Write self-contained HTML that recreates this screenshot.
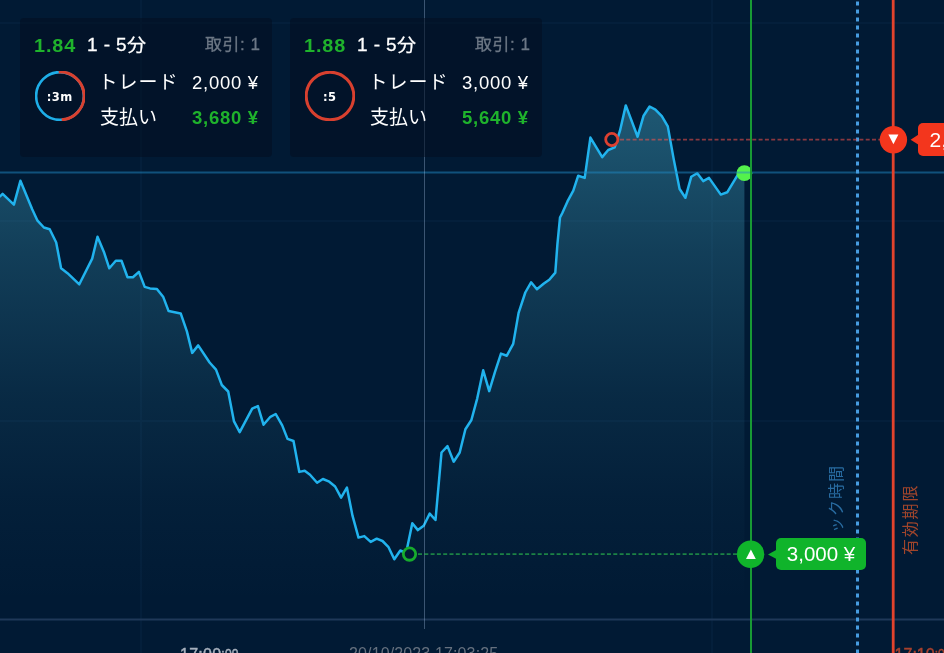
<!DOCTYPE html>
<html lang="ja">
<head>
<meta charset="utf-8">
<title>Chart</title>
<style>
html,body{margin:0;padding:0;}
body{width:944px;height:653px;overflow:hidden;background:#011a34;position:relative;font-family:"Liberation Sans","Noto Sans CJK JP",sans-serif;color:#fff;}
#chart{position:absolute;left:0;top:0;width:944px;height:653px;}
.card{position:absolute;top:18px;width:252px;height:138.5px;border-radius:4px;background:rgba(4,14,32,0.55);}
.card div{position:absolute;white-space:nowrap;}
.rate{left:14px;top:17.5px;font-size:18px;line-height:20px;font-weight:bold;color:#1fb32c;letter-spacing:0.8px;transform:scaleX(1.1);transform-origin:0 0;}
.dur{left:67px;top:16.5px;font-size:19px;line-height:20px;color:#fff;letter-spacing:0.4px;-webkit-text-stroke:0.3px #fff;}
.cnt{right:11.5px;top:16.5px;font-size:17px;line-height:20px;color:#6c7785;letter-spacing:0.5px;-webkit-text-stroke:0.3px #6c7785;transform:scaleY(.95);transform-origin:50% 100%;}
.fn{display:inline-block;transform:scaleY(.87);transform-origin:50% 82%;}
.l1{left:78.5px;top:53.5px;font-size:19px;line-height:22px;letter-spacing:1px;}
.v1{right:13.3px;top:54px;font-size:18.5px;line-height:22px;letter-spacing:0.7px;}
.l2{left:80px;top:89px;font-size:19px;line-height:22px;}
.v2{right:13.3px;top:88.5px;font-size:18.5px;line-height:22px;font-weight:bold;color:#1fb32c;letter-spacing:0.7px;}
.tm{left:14.7px;top:54.4px;width:50px;height:50px;line-height:50px;text-align:center;font-family:"DejaVu Sans","Liberation Sans",sans-serif;font-size:11.5px;font-weight:bold;letter-spacing:0.4px;}
.card svg{position:absolute;left:15.1px;top:53.4px;}
.tag{position:absolute;height:32px;line-height:32px;border-radius:5px;color:#fff;font-size:20.5px;white-space:nowrap;}
.vt{position:absolute;white-space:nowrap;transform-origin:0 0;transform:rotate(-90deg);font-size:17px;line-height:20px;}
.ax{position:absolute;white-space:nowrap;font-size:16px;line-height:16px;top:647px;}
.ax span{font-size:12px;position:relative;top:-1.8px;}
.sb{-webkit-text-stroke:0.45px currentColor;}
</style>
</head>
<body>
<svg id="chart" width="944" height="653" viewBox="0 0 944 653">
<defs>
<linearGradient id="ag" x1="0" y1="100" x2="0" y2="620" gradientUnits="userSpaceOnUse">
<stop offset="0.0000" stop-color="#42a4c0" stop-opacity="0.45"/>
<stop offset="0.0923" stop-color="#42a4c0" stop-opacity="0.4"/>
<stop offset="0.2885" stop-color="#42a4c0" stop-opacity="0.265"/>
<stop offset="0.5769" stop-color="#42a4c0" stop-opacity="0.112"/>
<stop offset="0.7692" stop-color="#42a4c0" stop-opacity="0.04"/>
<stop offset="0.9615" stop-color="#42a4c0" stop-opacity="0.0"/>
</linearGradient>
</defs>
<!-- grid -->
<g stroke="#041f3b" stroke-width="2">
<line x1="0" y1="23" x2="944" y2="23"/>
<line x1="0" y1="221" x2="944" y2="221"/>
<line x1="0" y1="421" x2="944" y2="421"/>
<line x1="141" y1="0" x2="141" y2="653"/>
<line x1="712" y1="0" x2="712" y2="653"/>
</g>
<line x1="0" y1="619.6" x2="944" y2="619.6" stroke="#1f3858" stroke-width="2"/>
<path d="M-2.0,197.0 L0.0,196.4 L2.6,193.9 L13.9,204.6 L20.4,180.8 L32.2,209.3 L37.5,220.7 L43.9,227.5 L49.7,229.2 L56.2,242.5 L61.1,268.3 L67.5,273.2 L79.3,284.3 L92.2,258.6 L97.5,236.7 L104.0,252.2 L109.3,268.3 L115.8,260.8 L121.5,260.8 L127.5,277.3 L132.9,277.3 L138.9,271.9 L144.7,286.9 L150.0,288.4 L156.9,289.0 L163.3,297.1 L168.6,311.1 L180.7,313.4 L186.9,331.4 L192.2,352.9 L198.2,345.4 L209.6,362.5 L216.0,369.6 L221.8,385.0 L228.2,391.5 L233.9,421.1 L239.7,432.2 L252.2,408.6 L257.9,406.1 L263.5,424.7 L270.4,416.8 L275.7,414.0 L282.2,425.4 L287.5,438.9 L293.5,441.0 L299.3,471.9 L304.7,470.8 L310.0,474.7 L317.1,482.8 L322.9,479.0 L329.3,481.7 L335.1,486.5 L341.1,497.6 L346.9,487.5 L352.5,515.7 L358.5,537.6 L364.3,536.1 L370.7,541.9 L376.7,538.7 L382.5,541.0 L388.3,546.8 L394.3,559.3 L400.3,550.5 L406.1,553.0 L412.3,523.2 L417.9,530.1 L423.7,525.8 L429.7,513.6 L435.5,520.0 L441.5,452.5 L447.5,446.1 L453.7,461.7 L459.7,452.5 L465.4,429.3 L471.4,420.0 L477.2,398.6 L483.2,370.3 L489.2,391.1 L495.0,371.8 L501.0,353.6 L506.8,355.7 L513.2,343.9 L518.6,312.9 L525.3,292.5 L531.1,282.3 L536.9,289.3 L543.9,283.5 L549.3,279.7 L555.3,272.6 L557.4,244.3 L560.0,217.5 L562.2,213.2 L567.5,201.4 L573.3,190.7 L578.2,175.7 L584.7,177.9 L590.4,137.6 L602.2,157.1 L608.2,150.0 L614.7,147.4 L620.0,130.7 L625.8,105.4 L637.6,136.7 L643.6,115.7 L649.6,106.5 L655.4,109.7 L661.8,116.2 L667.8,126.4 L673.6,158.6 L679.6,189.0 L685.4,197.8 L691.2,176.8 L697.2,173.2 L703.2,181.1 L709.0,177.9 L720.8,194.6 L727.2,192.3 L737.9,174.7 L744.4,173.2 L744.4,621 L-2,621 Z" fill="url(#ag)"/>
<!-- current price line -->
<path d="M-2.0,197.0 L0.0,196.4 L2.6,193.9 L13.9,204.6 L20.4,180.8 L32.2,209.3 L37.5,220.7 L43.9,227.5 L49.7,229.2 L56.2,242.5 L61.1,268.3 L67.5,273.2 L79.3,284.3 L92.2,258.6 L97.5,236.7 L104.0,252.2 L109.3,268.3 L115.8,260.8 L121.5,260.8 L127.5,277.3 L132.9,277.3 L138.9,271.9 L144.7,286.9 L150.0,288.4 L156.9,289.0 L163.3,297.1 L168.6,311.1 L180.7,313.4 L186.9,331.4 L192.2,352.9 L198.2,345.4 L209.6,362.5 L216.0,369.6 L221.8,385.0 L228.2,391.5 L233.9,421.1 L239.7,432.2 L252.2,408.6 L257.9,406.1 L263.5,424.7 L270.4,416.8 L275.7,414.0 L282.2,425.4 L287.5,438.9 L293.5,441.0 L299.3,471.9 L304.7,470.8 L310.0,474.7 L317.1,482.8 L322.9,479.0 L329.3,481.7 L335.1,486.5 L341.1,497.6 L346.9,487.5 L352.5,515.7 L358.5,537.6 L364.3,536.1 L370.7,541.9 L376.7,538.7 L382.5,541.0 L388.3,546.8 L394.3,559.3 L400.3,550.5 L406.1,553.0 L412.3,523.2 L417.9,530.1 L423.7,525.8 L429.7,513.6 L435.5,520.0 L441.5,452.5 L447.5,446.1 L453.7,461.7 L459.7,452.5 L465.4,429.3 L471.4,420.0 L477.2,398.6 L483.2,370.3 L489.2,391.1 L495.0,371.8 L501.0,353.6 L506.8,355.7 L513.2,343.9 L518.6,312.9 L525.3,292.5 L531.1,282.3 L536.9,289.3 L543.9,283.5 L549.3,279.7 L555.3,272.6 L557.4,244.3 L560.0,217.5 L562.2,213.2 L567.5,201.4 L573.3,190.7 L578.2,175.7 L584.7,177.9 L590.4,137.6 L602.2,157.1 L608.2,150.0 L614.7,147.4 L620.0,130.7 L625.8,105.4 L637.6,136.7 L643.6,115.7 L649.6,106.5 L655.4,109.7 L661.8,116.2 L667.8,126.4 L673.6,158.6 L679.6,189.0 L685.4,197.8 L691.2,176.8 L697.2,173.2 L703.2,181.1 L709.0,177.9 L720.8,194.6 L727.2,192.3 L737.9,174.7 L744.4,173.2" fill="none" stroke="#21b3ee" stroke-width="2.5" stroke-linejoin="round" stroke-linecap="round"/>
<circle cx="744.4" cy="173.2" r="7.9" fill="#54f24c"/>
<line x1="0" y1="172.5" x2="944" y2="172.5" stroke="#1f89c4" stroke-width="2" opacity="0.5"/>
<line x1="751" y1="0" x2="751" y2="653" stroke="#189a34" stroke-width="2"/>
<!-- cursor line -->
<line x1="424.5" y1="0" x2="424.5" y2="629" stroke="#bedcff" stroke-opacity="0.31" stroke-width="1" shape-rendering="crispEdges"/>
<!-- lock time dotted line -->
<line x1="857.5" y1="-6.4" x2="857.5" y2="653" stroke="#479ce0" stroke-width="3" stroke-dasharray="4 4"/>
<!-- expiry -->
<line x1="893.2" y1="0" x2="893.2" y2="653" stroke="#e2432d" stroke-width="2.8"/>
<!-- now line -->
<!-- dashed trade lines -->
<line x1="620" y1="139.6" x2="880" y2="139.6" stroke="#f9524a" stroke-opacity="0.55" stroke-width="1.7" stroke-dasharray="4 2.3"/>
<line x1="418" y1="554.1" x2="738" y2="554.1" stroke="#31d752" stroke-opacity="0.55" stroke-width="1.7" stroke-dasharray="4 2.3"/>
<circle cx="611.8" cy="139.5" r="6.1" fill="#011a34" stroke="#dd4030" stroke-width="2.8"/>
<circle cx="409.5" cy="554.05" r="6.2" fill="#011a34" stroke="#17ab2d" stroke-width="2.8"/>
<!-- end dot -->
<!-- markers -->
<circle cx="893.4" cy="139.7" r="13.7" fill="#f3361d"/>
<path d="M888.4,134.6 L898.4,134.6 L893.4,144.3 Z" fill="#fff"/>
<circle cx="750.6" cy="554.3" r="13.7" fill="#10b42b"/>
<path d="M746,559.1 L755.8,559.1 L750.9,549.5 Z" fill="#fff"/>
<!-- tag arrows -->
<path d="M910.6,139.7 L919,134.3 L919,145.1 Z" fill="#f3361d"/>
<path d="M768,554.4 L777,549.6 L777,559.2 Z" fill="#10b42b"/>
</svg>

<div class="vt" style="left:827.3px;top:550px;color:#3a8fd0;opacity:.7;font-size:16px;letter-spacing:1px;clip-path:inset(0 0 0 16px);">ロック時間</div>
<div class="vt" style="left:900.7px;top:554.8px;color:#c8502a;opacity:.8;font-size:16px;letter-spacing:1.8px;">有効期限</div>

<div class="tag" style="left:776px;top:538px;width:90px;background:#10b42b;text-align:center;">3,000 ¥</div>
<div class="tag" style="left:918.1px;top:123.3px;height:32.8px;line-height:34.2px;width:80px;background:#f3361d;padding-left:11.5px;font-size:21px;">2,000 ¥</div>

<div class="ax sb" style="left:180px;color:#a7b0bd;letter-spacing:0.25px;">17:00<span>:00</span></div>
<div class="ax" style="left:349px;top:646px;color:#66717f;letter-spacing:0.13px;">20/10/2023 17:03:25</div>
<div class="ax sb" style="left:894.6px;color:#a8402d;">17:10<span>:00</span></div>

<div class="card" style="left:20px;">
<div class="rate">1.84</div>
<div class="dur">1 - 5<span class="fn">分</span></div>
<div class="cnt">取引: 1</div>
<svg width="50" height="50" viewBox="0 0 50 50"><circle cx="25" cy="25" r="23.9" fill="none" stroke="#1eaee8" stroke-width="2.6"/><path d="M23.7,1.1 A23.9,23.9 0 0 1 26.7,48.85" fill="none" stroke="#d8402f" stroke-width="3"/></svg>
<div class="tm">:3m</div>
<div class="l1">トレード</div>
<div class="v1">2,000 ¥</div>
<div class="l2">支払い</div>
<div class="v2">3,680 ¥</div>
</div>

<div class="card" style="left:290px;">
<div class="rate">1.88</div>
<div class="dur">1 - 5<span class="fn">分</span></div>
<div class="cnt">取引: 1</div>
<svg width="50" height="50" viewBox="0 0 50 50"><circle cx="25" cy="25" r="23.8" fill="none" stroke="#d8402f" stroke-width="3"/></svg>
<div class="tm">:5</div>
<div class="l1">トレード</div>
<div class="v1">3,000 ¥</div>
<div class="l2">支払い</div>
<div class="v2">5,640 ¥</div>
</div>

</body>
</html>
